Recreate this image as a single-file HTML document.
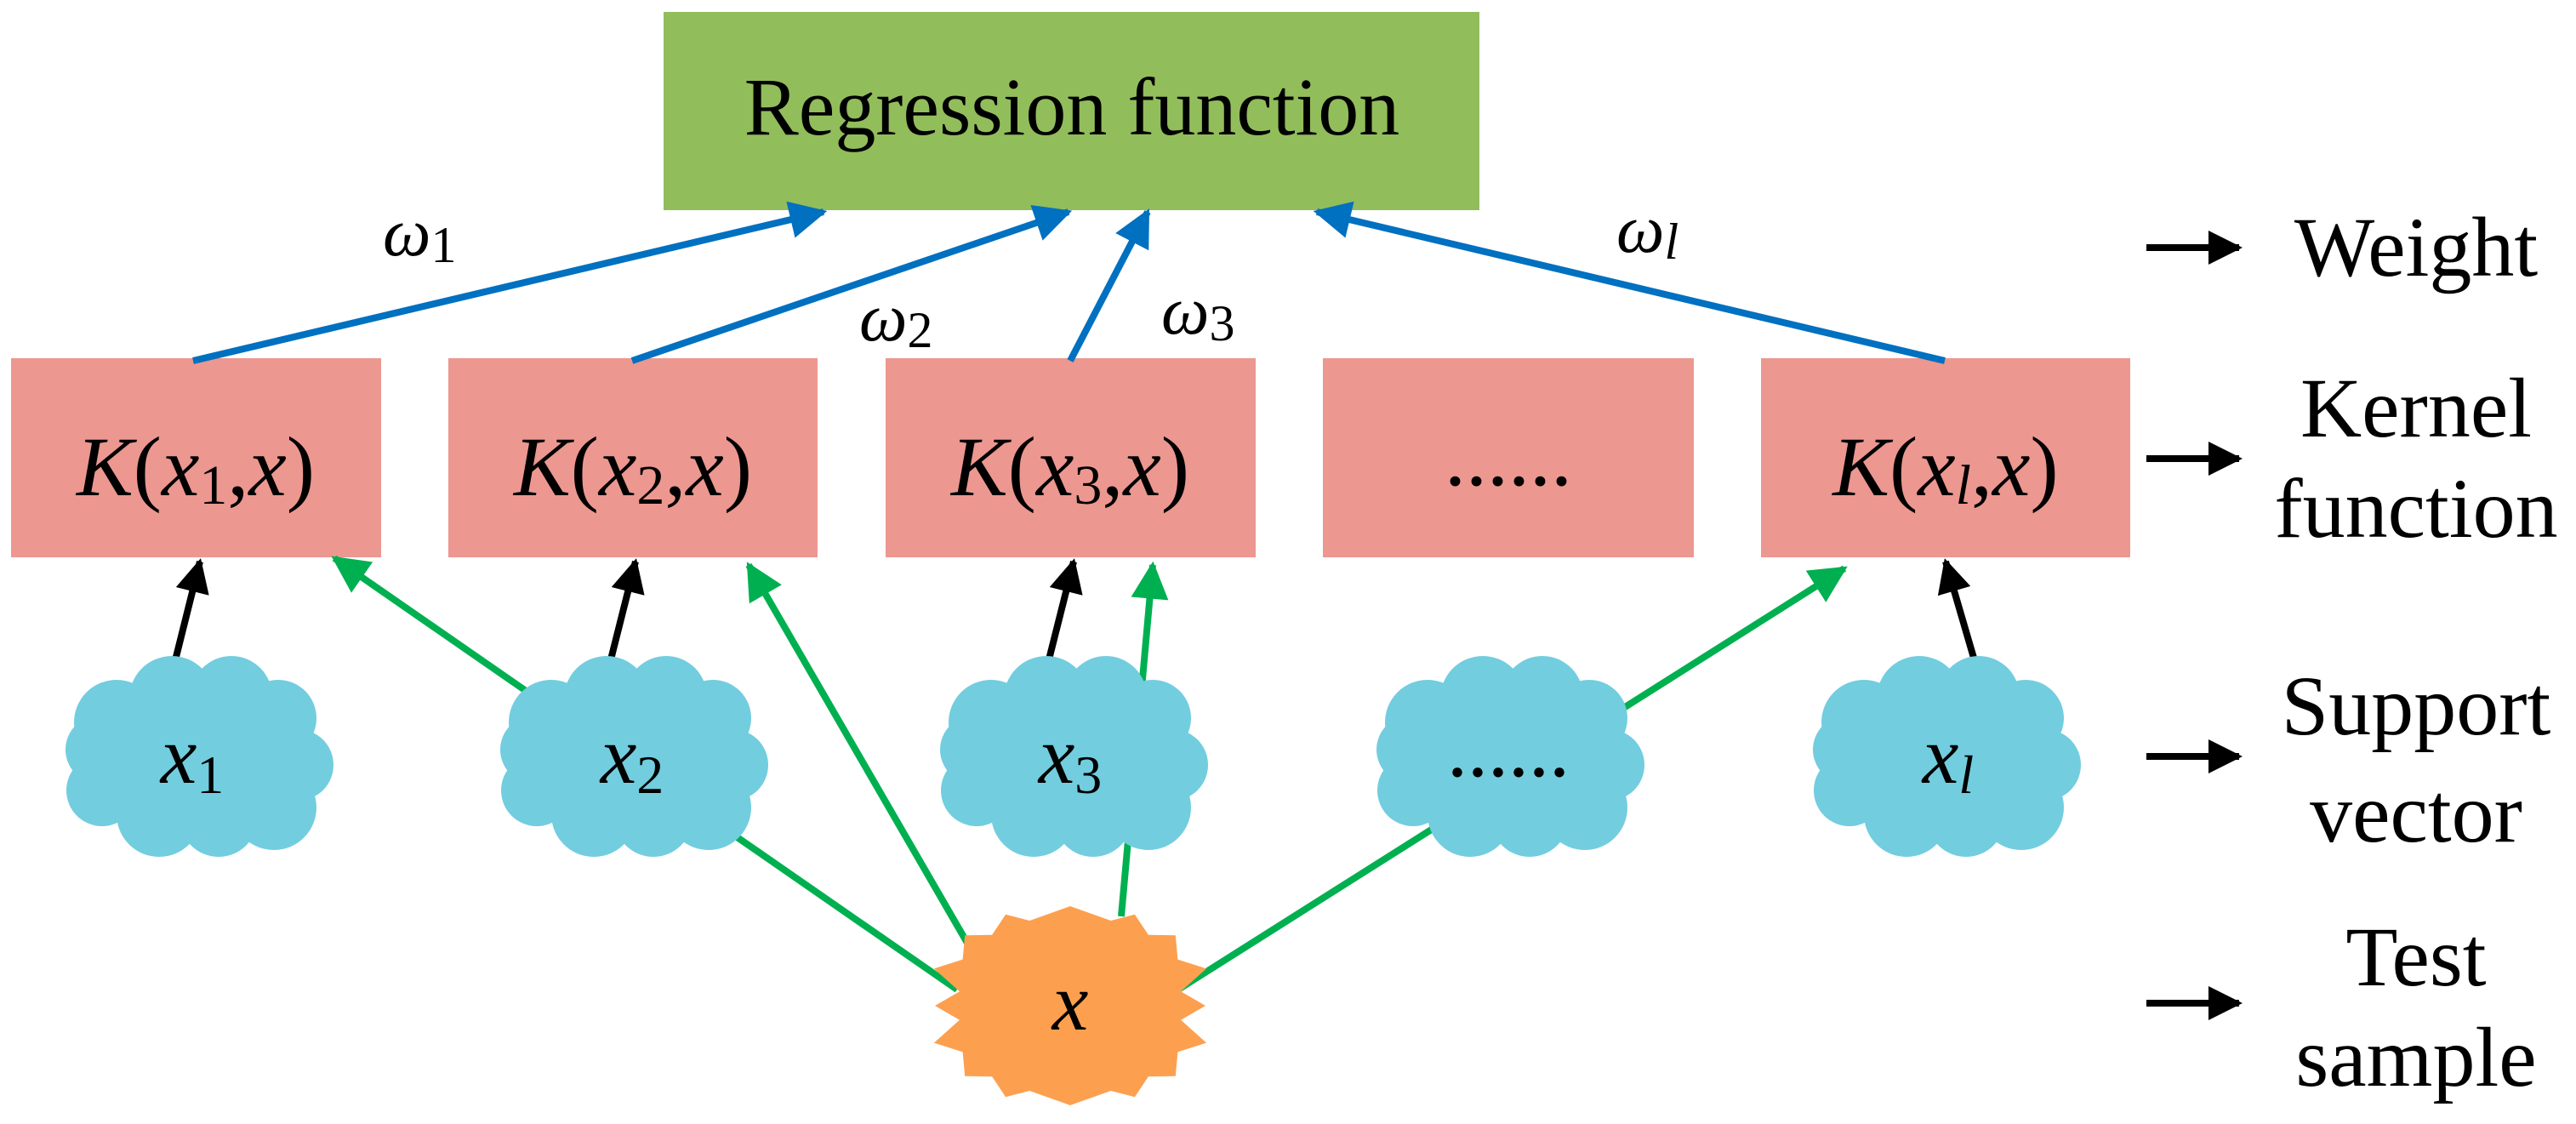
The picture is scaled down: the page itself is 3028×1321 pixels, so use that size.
<!DOCTYPE html>
<html><head><meta charset="utf-8"><style>
html,body{margin:0;padding:0;background:#fff;}
svg{display:block;font-family:"Liberation Serif","Times New Roman","DejaVu Serif",serif;}
svg text{font-family:"Liberation Serif","Times New Roman","DejaVu Serif",serif;}
</style></head><body>
<svg width="3028" height="1321" viewBox="0 0 3028 1321" xmlns="http://www.w3.org/2000/svg" font-family="Liberation Serif, Times New Roman, serif">
<defs>
<marker id="mb" viewBox="0 0 10 10" refX="9" refY="5" markerWidth="6" markerHeight="5.5" markerUnits="strokeWidth" orient="auto"><path d="M0,0L10,5L0,10z" fill="#0070c0"/></marker>
<marker id="mg" viewBox="0 0 10 10" refX="9" refY="5" markerWidth="6" markerHeight="5.5" markerUnits="strokeWidth" orient="auto"><path d="M0,0L10,5L0,10z" fill="#00b050"/></marker>
<marker id="mk" viewBox="0 0 10 10" refX="9" refY="5" markerWidth="5" markerHeight="5" markerUnits="strokeWidth" orient="auto"><path d="M0,0L10,5L0,10z" fill="#000"/></marker>
<g id="cloud" fill="#72cddf">
<circle cx="-95" cy="-40" r="50"/><circle cx="-30" cy="-68" r="50"/><circle cx="40" cy="-70" r="48"/><circle cx="95" cy="-45" r="45"/><circle cx="118" cy="10" r="42"/><circle cx="90" cy="60" r="50"/><circle cx="25" cy="72" r="46"/><circle cx="-45" cy="68" r="50"/><circle cx="-112" cy="40" r="42"/><circle cx="-115" cy="-8" r="40"/><circle cx="0" cy="0" r="95"/>
</g>
</defs>
<rect x="780" y="14" width="959" height="233" fill="#92bd5b"/>
<text x="1260" y="158" font-size="96" text-anchor="middle" font-family="Liberation Serif, serif">Regression function</text>

<g fill="#ec9790">
<rect x="13" y="421" width="435" height="234"/>
<rect x="527" y="421" width="434" height="234"/>
<rect x="1041" y="421" width="435" height="234"/>
<rect x="1555" y="421" width="436" height="234"/>
<rect x="2070" y="421" width="434" height="234"/>
</g>
<g font-size="100" text-anchor="middle" font-family="Liberation Serif, serif">
<text x="230" y="582"><tspan font-style="italic">K</tspan>(<tspan font-style="italic">x</tspan><tspan font-size="66" dy="10">1</tspan><tspan dy="-10">,</tspan><tspan font-style="italic">x</tspan>)</text>
<text x="744" y="582"><tspan font-style="italic">K</tspan>(<tspan font-style="italic">x</tspan><tspan font-size="66" dy="10">2</tspan><tspan dy="-10">,</tspan><tspan font-style="italic">x</tspan>)</text>
<text x="1258" y="582"><tspan font-style="italic">K</tspan>(<tspan font-style="italic">x</tspan><tspan font-size="66" dy="10">3</tspan><tspan dy="-10">,</tspan><tspan font-style="italic">x</tspan>)</text>
<text x="1773" y="570">......</text>
<text x="2287" y="582"><tspan font-style="italic">K</tspan>(<tspan font-style="italic">x</tspan><tspan font-size="66" dy="10" font-style="italic">l</tspan><tspan dy="-10">,</tspan><tspan font-style="italic">x</tspan>)</text>
</g>

<g stroke="#0070c0" stroke-width="8" fill="none">
<line x1="227" y1="424" x2="968" y2="249" marker-end="url(#mb)"/>
<line x1="743" y1="424" x2="1256" y2="249" marker-end="url(#mb)"/>
<line x1="1258" y1="424" x2="1349" y2="249" marker-end="url(#mb)"/>
<line x1="2286" y1="424" x2="1548" y2="249" marker-end="url(#mb)"/>
</g>
<g font-size="80" font-style="italic" font-family="Liberation Serif, serif">
<text x="450" y="300">ω<tspan font-style="normal" font-size="60" dy="8">1</tspan></text>
<text x="1010" y="400">ω<tspan font-style="normal" font-size="60" dy="8">2</tspan></text>
<text x="1365" y="392">ω<tspan font-style="normal" font-size="60" dy="8">3</tspan></text>
<text x="1900" y="296">ω<tspan font-size="60" dy="8">l</tspan></text>
</g>

<g stroke="#00b050" stroke-width="8" fill="none">
<line x1="1125" y1="1163" x2="393" y2="656" marker-end="url(#mg)"/>
<line x1="1149" y1="1129" x2="880" y2="664" marker-end="url(#mg)"/>
<line x1="1318" y1="1077" x2="1355" y2="664" marker-end="url(#mg)"/>
<line x1="1385" y1="1163" x2="2168" y2="668" marker-end="url(#mg)"/>
</g>
<g stroke="#000" stroke-width="8" fill="none">
<line x1="203" y1="788" x2="235" y2="660" marker-end="url(#mk)"/>
<line x1="716" y1="783" x2="747" y2="660" marker-end="url(#mk)"/>
<line x1="1231" y1="783" x2="1262" y2="660" marker-end="url(#mk)"/>
<line x1="2320" y1="773" x2="2287" y2="660" marker-end="url(#mk)"/>
</g>

<use href="#cloud" x="232" y="889"/>
<use href="#cloud" x="743" y="889"/>
<use href="#cloud" x="1260" y="889"/>
<use href="#cloud" x="1773" y="889"/>
<use href="#cloud" x="2286" y="889"/>
<g font-size="96" text-anchor="middle" font-family="Liberation Serif, serif">
<text x="226" y="920"><tspan font-style="italic">x</tspan><tspan font-size="64" dy="12">1</tspan></text>
<text x="743" y="920"><tspan font-style="italic">x</tspan><tspan font-size="64" dy="12">2</tspan></text>
<text x="1258" y="920"><tspan font-style="italic">x</tspan><tspan font-size="64" dy="12">3</tspan></text>
<text x="1773" y="912">......</text>
<text x="2290" y="920"><tspan font-style="italic">x</tspan><tspan font-size="64" dy="12" font-style="italic">l</tspan></text>
</g>

<polygon fill="#fca050" points="1417.0,1182.0 1388.1,1198.8 1418.1,1225.6 1384.4,1236.4 1381.8,1264.7 1349.9,1265.2 1333.9,1289.3 1305.7,1282.0 1258.0,1299.0 1210.3,1282.0 1182.1,1289.3 1166.1,1265.2 1134.2,1264.7 1131.6,1236.4 1097.9,1225.6 1127.9,1198.8 1099.0,1182.0 1127.9,1165.2 1097.9,1138.4 1131.6,1127.6 1134.2,1099.3 1166.1,1098.8 1182.1,1074.7 1210.3,1082.0 1258.0,1065.0 1305.7,1082.0 1333.9,1074.7 1349.9,1098.8 1381.8,1099.3 1384.4,1127.6 1418.1,1138.4 1388.1,1165.2"/>
<text x="1258" y="1210" font-size="96" font-style="italic" text-anchor="middle" font-family="Liberation Serif, serif">x</text>

<g stroke="#000" stroke-width="8" fill="none">
<line x1="2523" y1="291" x2="2632" y2="291" marker-end="url(#mk)"/>
<line x1="2523" y1="539" x2="2632" y2="539" marker-end="url(#mk)"/>
<line x1="2523" y1="889" x2="2632" y2="889" marker-end="url(#mk)"/>
<line x1="2523" y1="1179" x2="2632" y2="1179" marker-end="url(#mk)"/>
</g>
<g font-size="100" text-anchor="middle" font-family="Liberation Serif, serif">
<text x="2840" y="324">Weight</text>
<text x="2840" y="513">Kernel</text>
<text x="2840" y="631">function</text>
<text x="2840" y="863">Support</text>
<text x="2840" y="989">vector</text>
<text x="2840" y="1158">Test</text>
<text x="2840" y="1276">sample</text>
</g>
</svg>
</body></html>
